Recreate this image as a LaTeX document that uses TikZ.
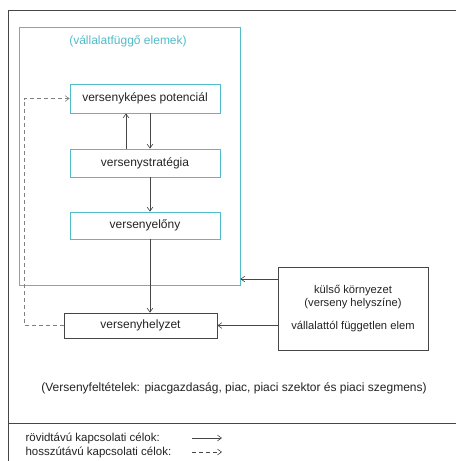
\documentclass[tikz,border=0pt]{standalone}
\usepackage{fontspec}
\setmainfont{Liberation Sans}
\usepackage{xcolor}
\usepackage{tikz}
\usetikzlibrary{positioning,arrows.meta}
\definecolor{FirmTeal}{RGB}{80,188,200}
\definecolor{LineGray}{RGB}{70,70,70}
\definecolor{TextGray}{RGB}{35,35,35}

\begin{document}
\begin{tikzpicture}[
    x=1pt,y=-1pt,
    every node/.style={text=TextGray},
    box/.style={
        rectangle,
        draw=FirmTeal,
        thick,
        minimum width=150pt,
        minimum height=28pt,
        align=center,
        font=\fontsize{12}{14}\selectfont
    },
    plainbox/.style={
        rectangle,
        draw=LineGray,
        thick,
        align=center,
        font=\fontsize{11.2}{13}\selectfont
    },
    arrow/.style={
        -{Straight Barb[length=1.4mm,width=2mm]},
        semithick,
        draw=LineGray
    },
    dasharrow/.style={
        arrow,
        dash pattern=on 4pt off 3pt,
        draw=gray
    }
]
\useasboundingbox (0,0) rectangle (456,461);

% frame
\draw[LineGray,thick] (456,10) -- (8,10) -- (8,461);
\draw[LineGray,thick] (8,423) -- (456,423);

% firm dependent part
\node[draw=FirmTeal,thick,minimum width=221pt,minimum height=258pt] (vallalat) at (129.5,156) {};
\node[text=FirmTeal,font=\fontsize{12}{14}\selectfont] (vallalatcim) at (128,41)
{(vállalatfüggő elemek)};

\node[box,minimum height=29pt] (pot) at (145,98.5)
{versenyképes potenciál};

\node[box] (strat) at (145,163)
{versenystratégia};

\node[box,minimum height=27pt] (elony) at (145,225.5)
{versenyelőny};

\node[plainbox,minimum width=153pt,minimum height=25pt,font=\fontsize{12}{14}\selectfont] (helyzet) at (140.5,325.5)
{versenyhelyzet};

\node[plainbox,minimum width=150pt,minimum height=83pt] (kulso) at (353,308.5)
{külső környezet\\(verseny helyszíne)\\[10pt]vállalattól független elem};

\draw[arrow]
([xshift=5pt]pot.south) -- ([xshift=5pt]pot.south |- strat.north);

\draw[arrow]
([xshift=-19pt]strat.north) -- ([xshift=-19pt]strat.north |- pot.south);

\draw[arrow]
([xshift=5pt]strat.south) -- ([xshift=5pt]strat.south |- elony.north);

\draw[arrow]
([xshift=5pt]elony.south) -- ([xshift=5pt]elony.south |- helyzet.north);

\coordinate (felso) at (278,279);
\draw[arrow]
(kulso.west |- felso) -- (vallalat.east |- felso);

\draw[arrow]
(kulso.west |- helyzet.east) -- (helyzet.east);

\coordinate (fordulo) at (24,98.5);
\draw[dasharrow]
(helyzet.west) -| (fordulo) -- (pot.west);

\node[font=\fontsize{12}{14}\selectfont] (feltetelek) at (234,388)
{(Versenyfeltételek: piacgazdaság, piac, piaci szektor és piaci szegmens)};

% legend
\node[anchor=west,font=\fontsize{11.5}{13}\selectfont] (rovid) at (22,438)
{rövidtávú kapcsolati célok:};
\node[anchor=west,font=\fontsize{11.5}{13}\selectfont] (hosszu) at (22,452)
{hosszútávú kapcsolati célok:};

\coordinate (rovidA) at (192,438);
\coordinate (rovidB) at (222,438);
\coordinate (hosszuA) at (192,452);
\coordinate (hosszuB) at (222,452);
\draw[arrow] (rovidA) -- (rovidB);
\draw[dasharrow,draw=LineGray] (hosszuA) -- (hosszuB);

\end{tikzpicture}
\end{document}
